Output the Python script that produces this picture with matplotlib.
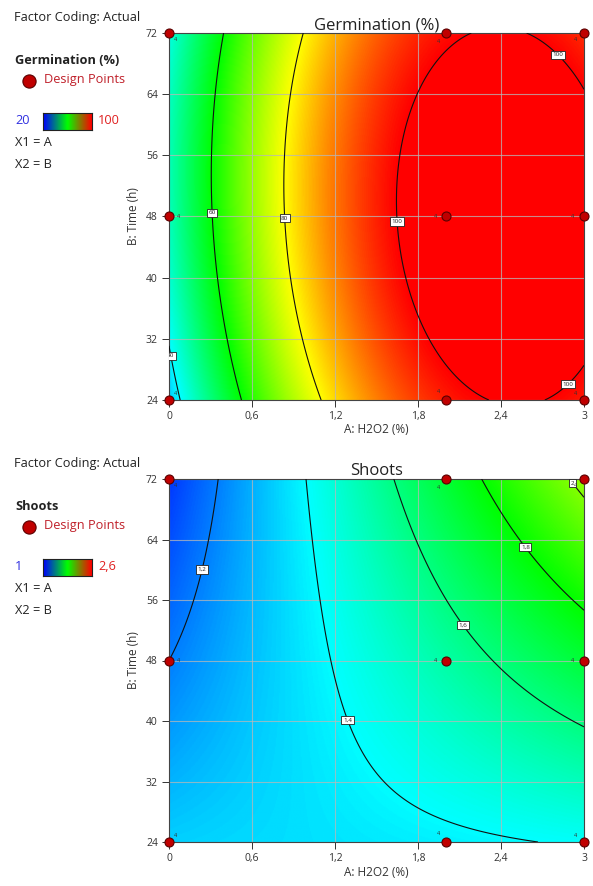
import numpy as np
import matplotlib
matplotlib.use("Agg")
import matplotlib.pyplot as plt
from matplotlib.colors import LinearSegmentedColormap

plt.rcParams['font.family'] = ['Open Sans', 'DejaVu Sans']

# ---------------- data ----------------
# design points (A: H2O2 %, B: Time h) and replicate counts
design_A = [0, 0, 0, 2, 2, 2, 3, 3, 3]
design_B = [24, 48, 72, 24, 48, 72, 24, 48, 72]
replicates = [4, 4, 4, 4, 4, 4, 4, 4, 4]

# quadratic response-surface coefficients (actual factors):
# y = b0 + bA*A + bB*B + bAB*A*B + bAA*A^2 + bBB*B^2
germ_coef = [14.07, 52.62, 1.169, -0.05508, -10.2, -0.010774]
shoot_coef = [1.472, -0.117, -0.006334, 0.006, 0.0, 0.0000139]

germ_levels = [40, 60, 80, 100]
shoot_levels = [1.2, 1.4, 1.6, 1.8, 2.0]
germ_range = [20, 100]
shoot_range = [1, 2.6]

x_ticks = [0, 0.6, 1.2, 1.8, 2.4, 3]
y_ticks = [24, 32, 40, 48, 56, 64, 72]

germ_label_pos = [(0.04, 29.9), (0.34, 48.5), (0.86, 47.8), (1.69, 47.4), (2.86, 70.1), (2.89, 26.0)]
shoot_label_pos = [(0.224, 60.1), (1.285, 40.1), (2.128, 52.7), (2.586, 63.1), (2.93, 71.6)]

# --------------------------------------
cmap = LinearSegmentedColormap.from_list(
    "de", [(0, "#0000ff"), (0.25, "#00ffff"), (0.5, "#00ff00"), (0.75, "#ffff00"), (1, "#ff0000")])
legend_cmap = LinearSegmentedColormap.from_list("leg", ["#0000ff", "#00ff00", "#ff0000"])


def model(c, A, B):
    return c[0] + c[1]*A + c[2]*B + c[3]*A*B + c[4]*A**2 + c[5]*B**2


def fmt_num(v):
    s = f"{v:g}"
    return s.replace('.', ',')


fig = plt.figure(figsize=(5.93, 8.86), dpi=100)

W, H = 593, 886


def fx(px):
    return px / W


def fy(py):
    return 1 - py / H


def panel(ax_rect, coef, levels, vrange, title, label_pos, resp_name, lo_txt, hi_txt, y0):
    ax = fig.add_axes(ax_rect)
    a = np.linspace(0, 3, 400)
    b = np.linspace(24, 72, 400)
    AA, BB = np.meshgrid(a, b)
    Z = model(coef, AA, BB)
    ax.imshow(Z, extent=[0, 3, 24, 72], origin='lower', aspect='auto', cmap=cmap,
              vmin=vrange[0], vmax=vrange[1], interpolation='bilinear', zorder=0)
    cs = ax.contour(AA, BB, Z, levels=levels, colors='#111111', linewidths=0.8, zorder=3)
    txts = ax.clabel(cs, fmt=fmt_num, fontsize=4.5, inline=False, manual=label_pos)
    for t in txts:
        t.set_rotation(0)
        t.set_color('#222222')
        t.set_bbox(dict(boxstyle='square,pad=0.25', fc='white', ec='#222222', lw=0.6))
        t.set_zorder(5)
    ax.set_xlim(0, 3)
    ax.set_ylim(24, 72)
    ax.set_xticks(x_ticks)
    ax.set_xticklabels([fmt_num(v) for v in x_ticks])
    ax.set_yticks(y_ticks)
    ax.grid(True, color='#b8b8b8', lw=0.8, alpha=0.75)
    ax.tick_params(labelsize=7.5, colors='#333333', length=5, width=0.7, pad=3)
    for s in ax.spines.values():
        s.set_color('#444444')
        s.set_linewidth(0.8)
    ax.set_xlabel("A: H2O2 (%)", fontsize=8.5, color='#333333', labelpad=1)
    ax.set_ylabel("B: Time (h)", fontsize=8.5, color='#333333', labelpad=4)
    ax.set_title(title, fontsize=12, color='#222222', pad=1)
    ax.plot(design_A, design_B, 'o', ms=6.5, mfc='#c00000', mec='#5a0000', mew=0.8,
            clip_on=False, zorder=6)
    # replicate labels
    offs = {(0, 72): (5, -5), (0, 48): (7, 0), (0, 24): (5, 5),
            (2, 72): (-5, -6), (2, 48): (-7, 0), (2, 24): (-5, 6),
            (3, 72): (-6, -5), (3, 48): (-8, 0), (3, 24): (-6, 5)}
    for xa, yb, n in zip(design_A, design_B, replicates):
        dx, dy = offs[(xa, yb)]
        ax.annotate(str(n), (xa, yb), xytext=(dx, dy), textcoords='offset points',
                    fontsize=4, color='#333333', ha='center', va='center', zorder=6)

    # left legend text
    fs = 9.2
    fig.text(fx(14), fy(y0), "Factor Coding: Actual", fontsize=fs, color='#222222', va='center')
    fig.text(fx(15), fy(y0 + 43), resp_name, fontsize=fs, fontweight='bold', color='#222222', va='center')
    fig.add_artist(plt.Line2D([fx(29)], [fy(y0 + 64)], marker='o', ms=9.5, mfc='#c00000',
                              mec='#5a0000', mew=0.8, transform=fig.transFigure))
    fig.text(fx(44), fy(y0 + 63), "Design Points", fontsize=fs, color='#c0202a', va='center')
    fig.text(fx(15), fy(y0 + 104), lo_txt, fontsize=fs, color='#3030e0', va='center')
    cax = fig.add_axes([fx(43), fy(y0 + 113), fx(92) - fx(43), (17) / H])
    cax.imshow(np.linspace(0, 1, 100)[None, :], aspect='auto', cmap=legend_cmap)
    cax.set_xticks([])
    cax.set_yticks([])
    for s in cax.spines.values():
        s.set_color('#222222')
        s.set_linewidth(0.8)
    fig.text(fx(98), fy(y0 + 104), hi_txt, fontsize=fs, color='#e02020', va='center')
    fig.text(fx(15), fy(y0 + 126), "X1 = A", fontsize=fs, color='#222222', va='center')
    fig.text(fx(15), fy(y0 + 147), "X2 = B", fontsize=fs, color='#222222', va='center')
    return ax


panel([fx(169), fy(400), fx(584) - fx(169), 367 / H], germ_coef, germ_levels, germ_range,
      "Germination (%)", germ_label_pos, "Germination (%)",
      fmt_num(germ_range[0]), fmt_num(germ_range[1]), 17)
panel([fx(169), fy(842), fx(584) - fx(169), 363 / H], shoot_coef, shoot_levels, shoot_range,
      "Shoots", shoot_label_pos, "Shoots",
      fmt_num(shoot_range[0]), fmt_num(shoot_range[1]), 463)

fig.savefig("out.png", dpi=100)
